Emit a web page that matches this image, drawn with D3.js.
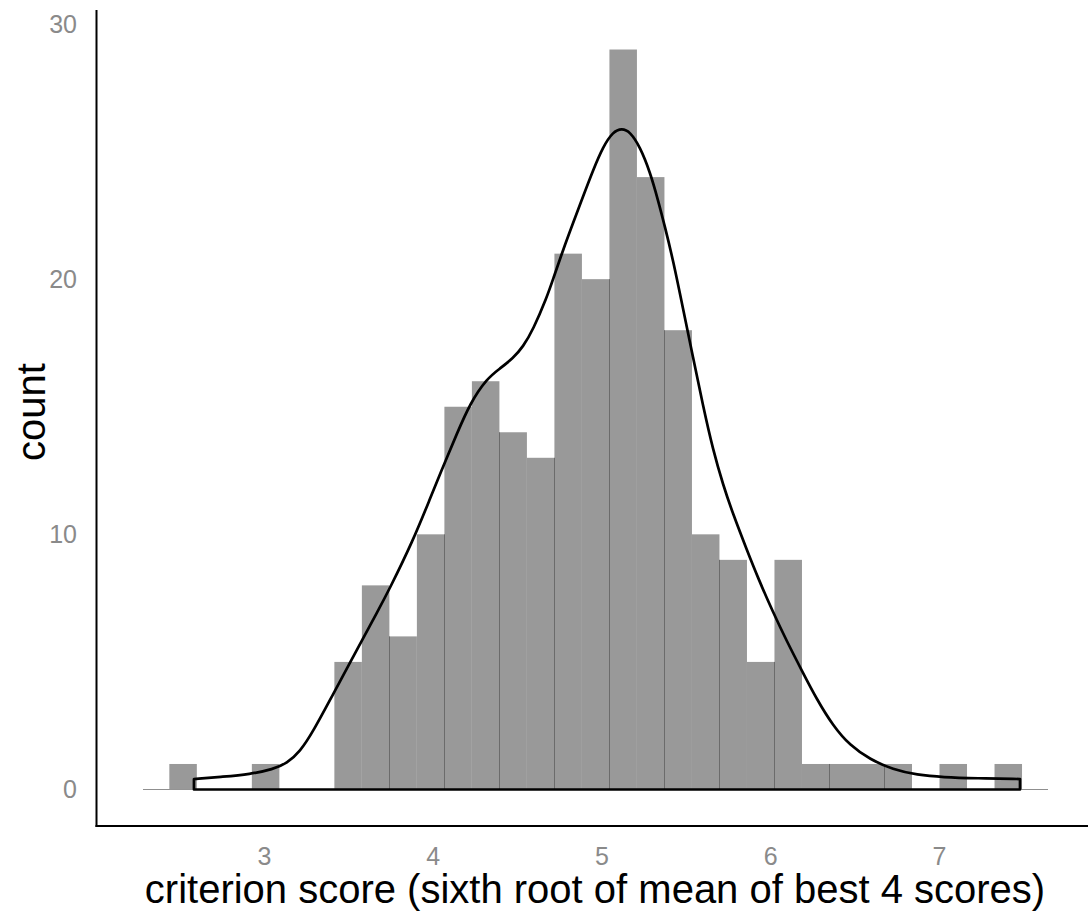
<!DOCTYPE html>
<html>
<head>
<meta charset="utf-8">
<script src="https://cdn.jsdelivr.net/npm/d3@7"></script>
<style>
  html, body { margin: 0; padding: 0; background: #ffffff; }
  svg { display: block; font-family: "Liberation Sans", Arial, sans-serif; }
</style>
</head>
<body>
<svg id="chart" width="1088" height="911"></svg>
<script>
// Histogram of criterion scores: 31 equal-width bins
const binStart = 2.439;
const binWidth = 0.163;
const binCounts = [1, 0, 0, 1, 0, 0, 5, 8, 6, 10, 15, 16, 14, 13, 21, 20, 29, 24, 18, 10, 9, 5, 9, 1, 1, 1, 1, 0, 1, 0, 1];

// Kernel density estimate, scaled to counts (x, count)
const densityX = [2.585, 2.757, 2.917, 3.053, 3.136, 3.213, 3.290, 3.409, 3.510, 3.581, 3.670, 3.741, 3.883, 3.984, 4.061, 4.144, 4.221, 4.321, 4.399, 4.476, 4.535, 4.594, 4.677, 4.713, 4.772, 4.831, 4.890, 4.950, 5.009, 5.068, 5.121, 5.169, 5.228, 5.287, 5.335, 5.376, 5.424, 5.483, 5.542, 5.601, 5.661, 5.720, 5.779, 5.862, 5.927, 6.016, 6.099, 6.188, 6.277, 6.372, 6.473, 6.591, 6.727, 6.870, 7.024, 7.225, 7.480];
const densityY = [0.41, 0.50, 0.60, 0.79, 1.03, 1.48, 2.26, 3.73, 4.97, 5.85, 6.94, 7.82, 9.75, 11.40, 12.65, 13.96, 15.13, 16.11, 16.50, 16.90, 17.35, 18.01, 19.30, 20.00, 21.14, 22.19, 23.23, 24.27, 25.19, 25.78, 25.91, 25.78, 25.19, 24.21, 23.10, 22.05, 20.75, 18.85, 16.95, 15.05, 13.30, 11.95, 10.80, 9.38, 8.30, 6.95, 5.80, 4.65, 3.52, 2.50, 1.72, 1.18, 0.78, 0.57, 0.48, 0.44, 0.41];

// Axis ticks and titles
const xTicks = [3, 4, 5, 6, 7];
const yTicks = [0, 10, 20, 30];
const xTitle = "criterion score (sixth root of mean of best 4 scores)";
const yTitle = "count";
const baselineExtent = [2.283, 7.646];

const svg = d3.select("#chart");

const x = d3.scaleLinear().domain([3, 7]).range([264, 939]);
const y = d3.scaleLinear().domain([0, 30]).range([789.5, 24]);

const bins = binCounts.map((c, i) => ({
  x0: binStart + i * binWidth,
  x1: binStart + (i + 1) * binWidth,
  count: c
}));

// zero line
svg.append("line")
  .attr("x1", x(baselineExtent[0])).attr("x2", x(baselineExtent[1]))
  .attr("y1", y(0)).attr("y2", y(0))
  .attr("stroke", "#8f8f8f").attr("stroke-width", 1);

// bars
svg.append("g").selectAll("rect")
  .data(bins.filter(b => b.count > 0))
  .join("rect")
  .attr("x", d => x(d.x0))
  .attr("width", d => x(d.x1) - x(d.x0))
  .attr("y", d => y(d.count))
  .attr("height", d => y(0) - y(d.count))
  .attr("fill", "#999999");

// thin dividers at every other bin boundary shared by two filled bins
const dividers = [];
for (let i = 1; i < bins.length; i++) {
  if (i % 2 === 0 && bins[i - 1].count > 0 && bins[i].count > 0) {
    dividers.push({ xv: bins[i].x0, h: Math.min(bins[i - 1].count, bins[i].count) });
  }
}
svg.append("g").selectAll("line")
  .data(dividers)
  .join("line")
  .attr("x1", d => Math.round(x(d.xv)) + 0.5)
  .attr("x2", d => Math.round(x(d.xv)) + 0.5)
  .attr("y1", d => y(d.h))
  .attr("y2", y(0))
  .attr("stroke", "#6b6b6b")
  .attr("stroke-width", 1);

// density outline, closed down to zero at both ends
const pts = densityX.map((v, i) => [v, densityY[i]]);
const curve = d3.line()
  .x(d => x(d[0]))
  .y(d => y(d[1]))
  .curve(d3.curveBasis);
const n = pts.length;
const curvePath = curve(pts);
const outline = `M${x(pts[0][0])},${y(0)}L${x(pts[0][0])},${y(pts[0][1])}` +
  curvePath.replace(/^M[^A-Za-z]*/, "") +
  `L${x(pts[n - 1][0])},${y(0)}Z`;
svg.append("path")
  .attr("d", outline)
  .attr("fill", "none")
  .attr("stroke", "#000000")
  .attr("stroke-width", 2.7)
  .attr("stroke-linejoin", "round");

// axis lines
svg.append("line")
  .attr("x1", 96.5).attr("x2", 96.5).attr("y1", 10).attr("y2", 827)
  .attr("stroke", "#000").attr("stroke-width", 2);
svg.append("line")
  .attr("x1", 95.5).attr("x2", 1088).attr("y1", 826).attr("y2", 826)
  .attr("stroke", "#000").attr("stroke-width", 2);

// tick labels
const yAxis = svg.append("g")
  .attr("transform", "translate(96,0)")
  .call(d3.axisLeft(y).tickValues(yTicks).tickFormat(d3.format("d")).tickSize(0).tickPadding(19));
const xAxis = svg.append("g")
  .attr("transform", "translate(0,826)")
  .call(d3.axisBottom(x).tickValues(xTicks).tickFormat(d3.format("d")).tickSize(0).tickPadding(21));
[yAxis, xAxis].forEach(g => {
  g.select(".domain").remove();
  g.selectAll("text")
    .attr("fill", "#8a8a8a")
    .style("font-size", "25px")
    .style("font-family", "'Liberation Sans', Arial, sans-serif");
});

// axis titles
svg.append("text")
  .attr("x", 595).attr("y", 903)
  .attr("text-anchor", "middle")
  .style("font-size", "40px")
  .attr("fill", "#000")
  .text(xTitle);
svg.append("text")
  .attr("transform", "translate(45,412) rotate(-90)")
  .attr("text-anchor", "middle")
  .style("font-size", "40px")
  .attr("fill", "#000")
  .text(yTitle);
</script>
</body>
</html>
